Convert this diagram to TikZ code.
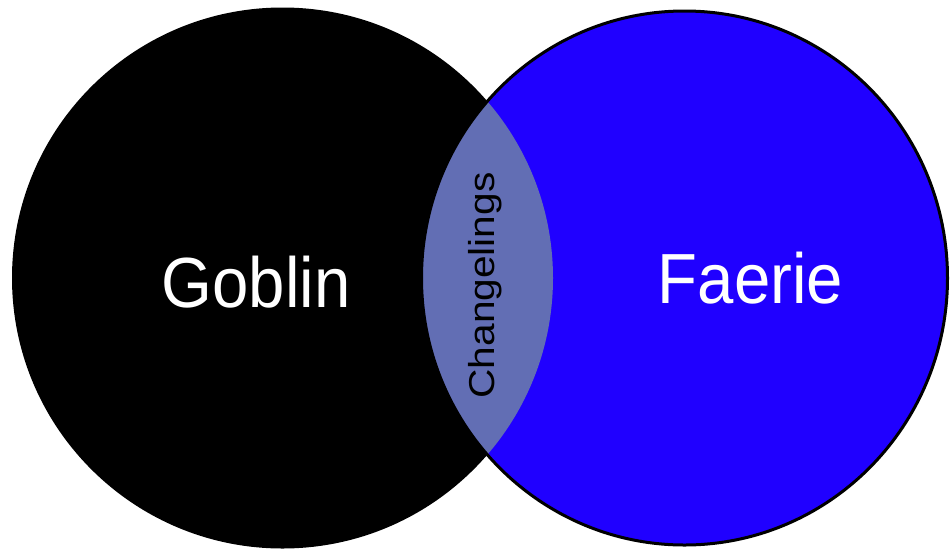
\documentclass[tikz,border=0pt]{standalone}
\usepackage{fontspec}
\setmainfont{Liberation Sans}
\usepackage{tikz}
\usetikzlibrary{positioning}

\definecolor{faerieblue}{RGB}{32,0,255}
\definecolor{lensblue}{RGB}{98,110,180}

\begin{document}
\begin{tikzpicture}[
  x=1pt, y=-1pt,
  goblinset/.style={fill=black},
  faerieset/.style={fill=faerieblue},
  bigname/.style={text=white, inner sep=0pt, anchor=base, xscale=0.92,
    font=\fontsize{71}{71}\selectfont},
  lensname/.style={text=black, inner sep=0pt, anchor=base, rotate=90, xscale=1.13,
    font=\fontsize{36}{36}\selectfont}
]
\useasboundingbox (0,0) rectangle (951,550);
\clip (0,0) rectangle (951,550);
% the two sets
\fill[goblinset] (282.5,278) circle[radius=270.5];
\fill[faerieset] (684.5,278) ellipse[x radius=263, y radius=267];
% overlap
\begin{scope}
  \clip (282.5,278) circle[radius=270.5];
  \fill[lensblue] (684.5,278) ellipse[x radius=263, y radius=267];
\end{scope}
\draw[line width=3pt] (684.5,278) ellipse[x radius=263, y radius=267];
% labels
\node[bigname] (goblin) at (256,307) {Goblin};
\node[bigname] (faerie) at (750.5,303) {Faerie};
\node[lensname] (change) at (494,285.5) {Changelings};
\end{tikzpicture}
\end{document}
